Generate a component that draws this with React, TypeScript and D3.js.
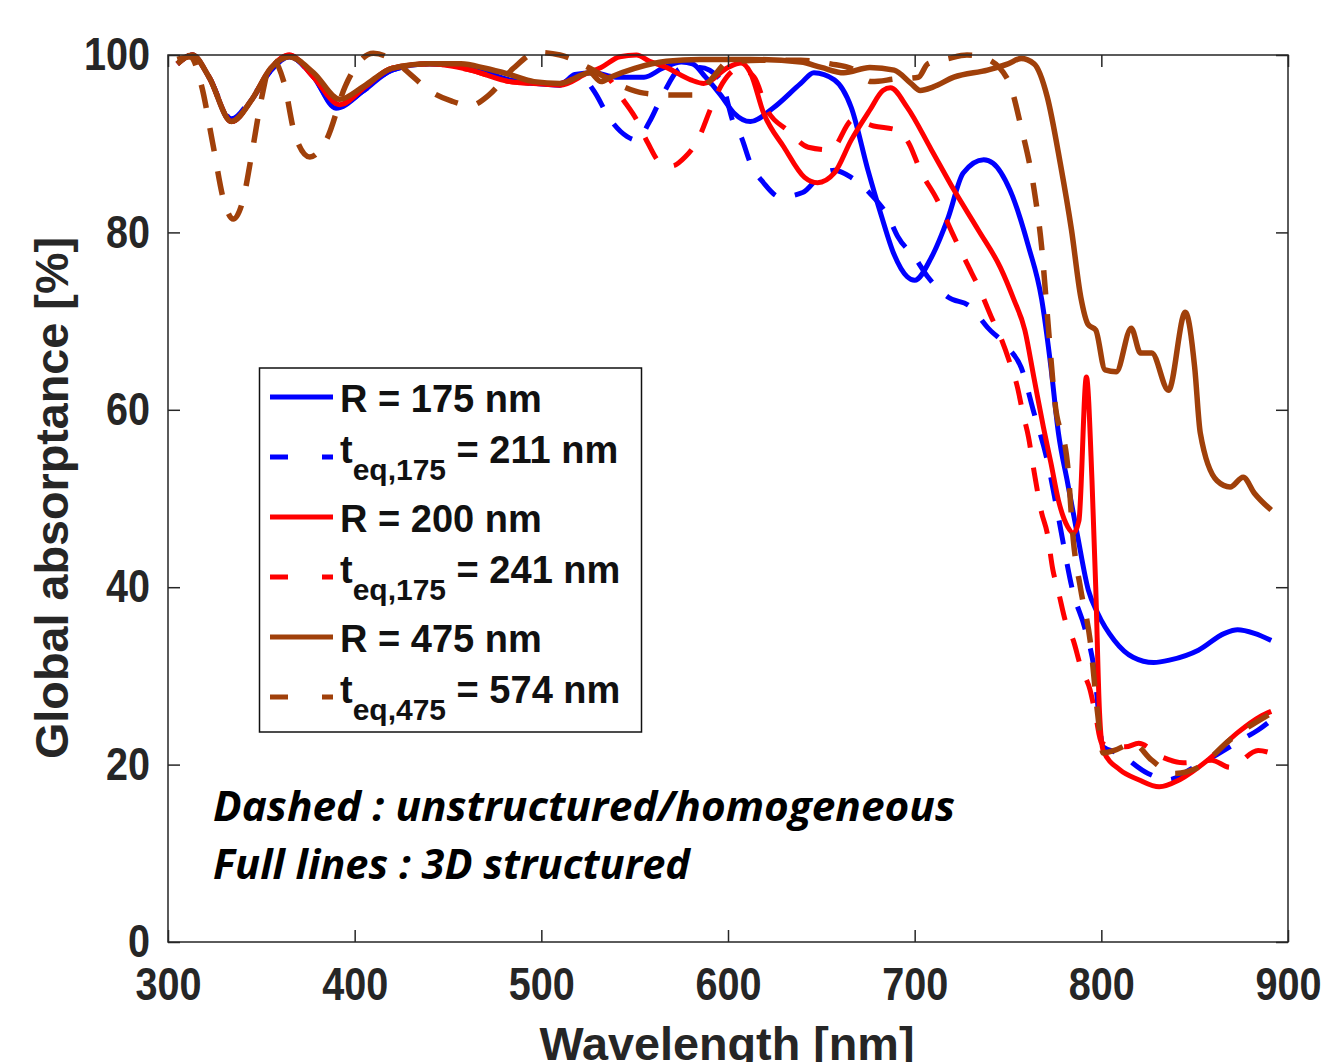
import React, { useRef, useEffect } from "react";
import {
  select,
  scaleLinear,
  axisBottom,
  axisLeft,
  axisTop,
  axisRight,
  line,
  curveMonotoneX,
} from "d3";

const xTicks = [300, 400, 500, 600, 700, 800, 900];
const yTicks = [0, 20, 40, 60, 80, 100];

// R = 175 nm (3D structured)
const r175Nm = [305, 313, 322, 334, 345, 355, 365, 378, 390, 405, 420, 440, 462, 483, 496, 510, 518, 528, 540, 555, 565, 575, 581, 588, 596, 603, 612, 624, 639, 646, 657, 666, 675, 682, 689, 696, 700, 709, 718, 726, 737, 742, 751, 761, 768, 773, 777, 782, 787, 793, 798, 807, 817, 828, 837, 852, 866, 873, 882, 891];
const r175Abs = [99, 100, 97.5, 92.5, 95, 98.2, 99.8, 97.5, 94, 96, 98.3, 99, 98.6, 97.2, 96.8, 96.6, 97.8, 98, 97.5, 97.5, 98.5, 99.2, 99, 97.5, 95.5, 93.5, 92.5, 94, 96.8, 98, 97.2, 94.1, 87, 82, 77.5, 75, 74.6, 77.2, 81.7, 86.7, 88.2, 87.8, 84.8, 78.4, 72.5, 64.8, 57.4, 51.7, 46.1, 39.7, 37.1, 34, 32.1, 31.5, 31.8, 32.9, 34.8, 35.2, 34.8, 34];

// t_eq,175 = 211 nm (homogeneous)
const t211Nm = [305, 313, 322, 334, 345, 355, 365, 378, 390, 405, 420, 440, 462, 483, 496, 510, 520, 528, 537, 546, 551, 558, 565, 575, 585, 596, 603, 607, 612, 619, 628, 640, 650, 657, 666, 676, 686, 691, 700, 707, 718, 730, 739, 750, 757, 764, 771, 777, 785, 791, 796, 801, 809, 825, 836, 848, 860, 875, 884, 891];
const t211Abs = [99, 100, 97.5, 92.8, 95.2, 98.2, 99.8, 97.5, 94.2, 96, 98.3, 99, 98.6, 97.2, 96.8, 96.8, 97.8, 96, 92.7, 90.8, 90.4, 92.5, 95.5, 98.5, 98.6, 97.2, 92.3, 90.8, 87.8, 85.6, 84, 84.5, 86.5, 87, 86.2, 84.4, 81.7, 79.5, 77.2, 75, 72.7, 71.6, 69.3, 67, 64.8, 59.6, 54.3, 47.9, 39.3, 35.5, 31, 22, 21.3, 19, 18.3, 19.5, 20.9, 22.8, 23.9, 25];

// R = 200 nm (3D structured)
const r200Nm = [305, 313, 322, 334, 345, 355, 365, 378, 392, 405, 420, 440, 462, 483, 496, 510, 525, 532, 542, 551, 558, 567, 580, 587, 600, 607, 612, 619, 630, 641, 648, 657, 666, 676, 683, 687, 696, 709, 721, 734, 746, 753, 759, 764, 769, 773, 777, 782, 785, 788, 792, 795, 797, 799, 801, 810, 820, 831, 842, 857, 873, 885, 891];
const r200Abs = [99, 100, 97.5, 92.5, 95, 98.5, 100, 97.5, 94.4, 96.3, 98.5, 99, 98.3, 97, 96.8, 96.6, 98, 98.6, 99.8, 100, 99.3, 98.6, 97.2, 96.8, 98.6, 99.1, 98, 93.5, 89.6, 86.2, 85.6, 86.7, 90.4, 93.8, 96, 96.3, 94.1, 89.3, 84.8, 80.3, 76, 72.5, 69, 63.5, 58, 54, 49.8, 46.8, 46.1, 47.5, 63.7, 52, 40, 26, 21.6, 19.4, 18.3, 17.5, 18.3, 20.5, 23.6, 25.4, 26];

// t_eq = 241 nm (homogeneous)
const t241Nm = [305, 313, 322, 334, 345, 355, 365, 378, 392, 405, 420, 440, 462, 483, 496, 510, 525, 535, 544, 551, 557, 564, 570, 577, 584, 591, 597, 606, 614, 621, 632, 643, 655, 667, 678, 691, 697, 703, 712, 720, 728, 735, 741, 746, 751, 755, 758, 761, 764, 768, 771, 774, 777, 781, 785, 789, 794, 797, 800, 806, 813, 820, 832, 844, 859, 869, 884, 891];
const t241Abs = [99, 100, 97.5, 92.5, 95, 98.5, 100, 97.5, 94.4, 96.3, 98.5, 99, 98.3, 97, 96.8, 96.8, 98, 97.5, 94.9, 92.7, 90.1, 87.8, 87.5, 88.5, 90.5, 94.1, 96.8, 98.5, 97.5, 93.8, 91.5, 89.6, 89.3, 92.7, 92, 91.5, 90, 87, 83.7, 80, 76.5, 73.5, 70.5, 68.2, 65.3, 62.6, 59.6, 56.9, 53, 48.4, 46.1, 42, 39.5, 36, 34, 31, 28.4, 25.5, 22.5, 22, 22, 22.4, 20.9, 20.2, 20.5, 19.7, 21.6, 21.3];

// R = 475 nm (3D structured)
const r475Nm = [305, 313, 322, 334, 345, 355, 365, 378, 392, 405, 420, 440, 457, 470, 483, 496, 510, 526, 532, 537, 550, 567, 585, 612, 639, 650, 662, 676, 689, 698, 703, 710, 721, 739, 750, 757, 764, 771, 778, 784, 789, 793, 797, 802, 808, 816, 821, 827, 836, 845, 850, 853, 862, 869, 876, 882, 891];
const r475Abs = [99, 100, 97.5, 92.5, 95, 98.5, 99.8, 98, 95, 96.5, 98.5, 99, 99, 98.5, 97.8, 97, 96.8, 98, 97, 97.5, 98.5, 99.3, 99.5, 99.5, 99.2, 98.6, 98, 98.6, 98.3, 96.8, 96, 96.4, 97.5, 98.3, 99, 99.6, 99, 95.3, 87.8, 80.3, 72.7, 69.6, 69, 64.5, 64.3, 69.2, 66.4, 66.4, 62.2, 71, 64.8, 57.4, 52, 51.3, 52.4, 50.6, 48.7];

// t_eq,475 = 574 nm (homogeneous)
const t574Nm = [305, 312, 318, 324, 330, 335, 340, 345, 350, 356, 362, 368, 376, 385, 395, 400, 410, 420, 430, 440, 452, 462, 472, 485, 498, 510, 526, 540, 555, 570, 583, 592, 600, 617, 639, 655, 667, 677, 690, 702, 707, 718, 728, 737, 750, 757, 764, 768, 771, 775, 782, 785, 789, 794, 798, 801, 807, 817, 827, 839, 852, 869, 891];
const t574Abs = [99.5, 99.8, 96.5, 90, 83.5, 81.5, 83.5, 89, 95, 99.5, 97, 91, 88.5, 90.5, 96.5, 98.5, 100.2, 99.5, 97.8, 96, 94.8, 94.3, 95.5, 98.5, 100.3, 100, 98.5, 96.8, 95.7, 95.5, 95.5, 97.5, 99.2, 99.4, 99.4, 99, 98.4, 97, 97.3, 97.5, 99, 99.6, 100, 99.7, 97.2, 91.9, 84.8, 78.4, 70.9, 61.1, 53.6, 45.3, 39.7, 34, 25.8, 21.3, 21.6, 22.4, 20.5, 19, 19.7, 22.8, 25.8];

const BLUE = "#0000ff";
const RED = "#ff0000";
const BROWN = "#a0400a";

const series = [
  { nm: r175Nm, abs: r175Abs, color: BLUE, dashed: false, label: "R = 175 nm" },
  { nm: t211Nm, abs: t211Abs, color: BLUE, dashed: true, label: "t", sub: "eq,175", rest: " = 211 nm" },
  { nm: r200Nm, abs: r200Abs, color: RED, dashed: false, label: "R = 200 nm" },
  { nm: t241Nm, abs: t241Abs, color: RED, dashed: true, label: "t", sub: "eq,175", rest: " = 241 nm" },
  { nm: r475Nm, abs: r475Abs, color: BROWN, dashed: false, label: "R = 475 nm" },
  { nm: t574Nm, abs: t574Abs, color: BROWN, dashed: true, label: "t", sub: "eq,475", rest: " = 574 nm" },
];

const FONT = "Arial, 'Liberation Sans', Helvetica, sans-serif";
const AXIS_COLOR = "#262626";

const App: React.FC = () => {
  const width = 1328;
  const height = 1062;
  const left = 168;
  const right = 1288;
  const top = 55;
  const bottom = 942;

  const gx = useRef<SVGGElement>(null);
  const gy = useRef<SVGGElement>(null);
  const gTop = useRef<SVGGElement>(null);
  const gRight = useRef<SVGGElement>(null);

  const x = scaleLinear().domain([300, 900]).range([left, right]);
  const y = scaleLinear().domain([0, 100]).range([bottom, top]);

  useEffect(() => {
    const styleAxis = (g: any) => {
      g.select(".domain").remove();
      g.selectAll(".tick line").attr("stroke", AXIS_COLOR).attr("stroke-width", 1.5);
      g.selectAll(".tick text")
        .attr("font-size", 46)
        .attr("font-weight", "bold")
        .attr("font-family", FONT)
        .attr("fill", AXIS_COLOR)
        .attr("textLength", (d: number) => String(d).length * 22)
        .attr("lengthAdjust", "spacingAndGlyphs");
    };
    if (gx.current)
      select(gx.current)
        .call(axisBottom(x).tickValues(xTicks).tickSize(-12).tickSizeOuter(0).tickPadding(25))
        .call(styleAxis);
    if (gy.current)
      select(gy.current)
        .call(axisLeft(y).tickValues(yTicks).tickSize(-12).tickSizeOuter(0).tickPadding(18))
        .call(styleAxis);
    if (gTop.current)
      select(gTop.current)
        .call(axisTop(x).tickValues(xTicks).tickSize(-12).tickSizeOuter(0).tickFormat(() => ""))
        .call(styleAxis);
    if (gRight.current)
      select(gRight.current)
        .call(axisRight(y).tickValues(yTicks).tickSize(-12).tickSizeOuter(0).tickFormat(() => ""))
        .call(styleAxis);
  }, [x, y]);

  const pathFor = (nm: number[], abs: number[]) =>
    line<number>()
      .x((_, i) => x(nm[i]))
      .y((d) => y(d))
      .curve(curveMonotoneX)(abs) || "";

  const legendX = 260;
  const legendY = 368;
  const rowStart = 397;
  const rowStep = 60;

  return (
    <div style={{ position: "absolute", left: 0, top: 0 }}>
      <svg width={width} height={height} style={{ display: "block", background: "#fff" }}>
        <rect x={0} y={0} width={width} height={height} fill="#fff" />

        {series.map((s, i) => (
          <path
            key={i}
            d={pathFor(s.nm, s.abs)}
            fill="none"
            stroke={s.color}
            strokeWidth={s.color === BROWN ? 5.5 : 5}
            strokeDasharray={s.dashed ? "24,20" : undefined}
            strokeLinejoin="round"
          />
        ))}

        <rect
          x={left}
          y={top}
          width={right - left}
          height={bottom - top}
          fill="none"
          stroke={AXIS_COLOR}
          strokeWidth={1.5}
        />
        <g ref={gx} transform={`translate(0,${bottom})`} />
        <g ref={gy} transform={`translate(${left},0)`} />
        <g ref={gTop} transform={`translate(0,${top})`} />
        <g ref={gRight} transform={`translate(${right},0)`} />

        <text
          x={727}
          y={1060}
          textAnchor="middle"
          fontFamily={FONT}
          fontWeight="bold"
          fontSize={46}
          fill={AXIS_COLOR}
          textLength={375}
          lengthAdjust="spacingAndGlyphs"
        >
          Wavelength [nm]
        </text>
        <text
          transform="translate(68,498) rotate(-90)"
          textAnchor="middle"
          fontFamily={FONT}
          fontWeight="bold"
          fontSize={46}
          fill={AXIS_COLOR}
          textLength={522}
          lengthAdjust="spacingAndGlyphs"
        >
          Global absorptance [%]
        </text>

        <g>
          <rect
            x={legendX - 0.5}
            y={legendY}
            width={382}
            height={364}
            fill="#fff"
            stroke="#111"
            strokeWidth={1.5}
          />
          {series.map((s, i) => {
            const ly = rowStart + i * rowStep;
            return (
              <g key={i}>
                <line
                  x1={270}
                  x2={333}
                  y1={ly}
                  y2={ly}
                  stroke={s.color}
                  strokeWidth={5}
                  strokeDasharray={s.dashed ? "18,34" : undefined}
                />
                {s.dashed ? (
                  <text x={340} y={ly + 6} fontFamily={FONT} fontWeight="bold" fontSize={38} fill="#111">
                    {s.label}
                    <tspan dy={17} fontSize={30}>
                      {s.sub}
                    </tspan>
                    <tspan dy={-17} fontSize={38}>
                      {s.rest}
                    </tspan>
                  </text>
                ) : (
                  <text x={340} y={ly + 15} fontFamily={FONT} fontWeight="bold" fontSize={38} fill="#111">
                    {s.label}
                  </text>
                )}
              </g>
            );
          })}
        </g>

        <text
          x={213}
          y={821}
          fontFamily="'Open Sans', sans-serif"
          fontWeight="bold"
          fontStyle="italic"
          fontSize={41}
          fill="#000"
          textLength={742}
          lengthAdjust="spacingAndGlyphs"
        >
          Dashed : unstructured/homogeneous
        </text>
        <text
          x={213}
          y={879}
          fontFamily="'Open Sans', sans-serif"
          fontWeight="bold"
          fontStyle="italic"
          fontSize={41}
          fill="#000"
          textLength={477}
          lengthAdjust="spacingAndGlyphs"
        >
          Full lines : 3D structured
        </text>
      </svg>
    </div>
  );
};

export default App;
